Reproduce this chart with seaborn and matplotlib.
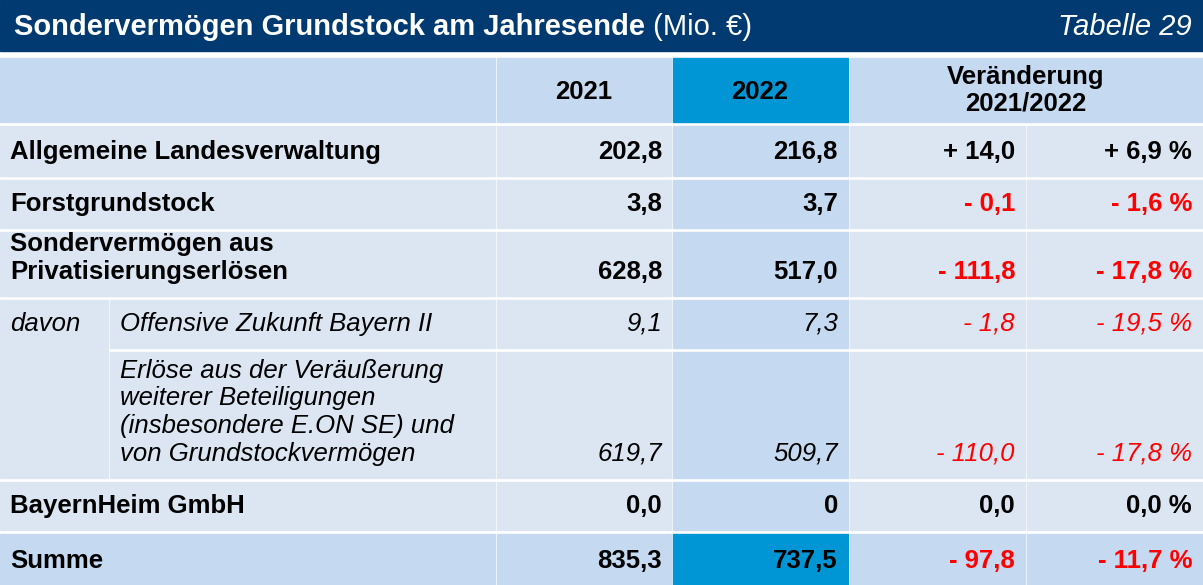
import matplotlib
matplotlib.use("Agg")
import matplotlib.pyplot as plt
from matplotlib.patches import Rectangle
import seaborn as sns

sns.set_theme(style="white", font="Liberation Sans")
plt.rcParams["text.color"] = "black"

title = "Sondervermögen Grundstock am Jahresende"
title_unit = " (Mio. €)"
table_no = "Tabelle 29"
col_headers = ["2021", "2022", "Veränderung\n2021/2022"]
row_labels = ["Allgemeine Landesverwaltung", "Forstgrundstock",
              "Sondervermögen aus\nPrivatisierungserlösen",
              "Offensive Zukunft Bayern II",
              "Erlöse aus der Veräußerung\nweiterer Beteiligungen\n(insbesondere E.ON SE) und\nvon Grundstockvermögen",
              "BayernHeim GmbH", "Summe"]
vals_2021 = ["202,8", "3,8", "628,8", "9,1", "619,7", "0,0", "835,3"]
vals_2022 = ["216,8", "3,7", "517,0", "7,3", "509,7", "0", "737,5"]
chg_abs = ["+ 14,0", "- 0,1", "- 111,8", "- 1,8", "- 110,0", "0,0", "- 97,8"]
chg_pct = ["+ 6,9 %", "- 1,6 %", "- 17,8 %", "- 19,5 %", "- 17,8 %", "0,0 %", "- 11,7 %"]
sub_rows = [3, 4]

NAVY = "#003a70"; LIGHT = "#dce6f2"; MID = "#c5d9f1"; CYAN = "#0096d6"; RED = "#ff0000"
FS = 18.5

fig = plt.figure(figsize=(12.03, 5.85), dpi=100)
ax = fig.add_axes([0, 0, 1, 1])
ax.set_xlim(0, 1203); ax.set_ylim(585, 0); ax.axis("off")

ax.add_patch(Rectangle((0, 0), 1203, 51, color=NAVY))
t = ax.text(14, 27, title, color="white", fontsize=21, fontweight="bold", va="center")
fig.canvas.draw()
bb = t.get_window_extent().transformed(ax.transData.inverted())
ax.text(bb.x1, 27, title_unit, color="white", fontsize=21, va="center")
ax.text(1192, 27, table_no, color="white", fontsize=21, style="italic", va="center", ha="right")

cols = [(0, 495), (497, 671), (673, 848), (850, 1025), (1027, 1203)]
rows = [(126, 176), (180, 228), (232, 296), (300, 348), (352, 478), (482, 530), (534, 585)]
ax.add_patch(Rectangle((0, 58), 495, 64, color=MID))
ax.add_patch(Rectangle((497, 58), 174, 64, color=MID))
ax.add_patch(Rectangle((673, 58), 175, 64, color=CYAN))
ax.add_patch(Rectangle((850, 58), 353, 64, color=MID))
ax.text(584, 92, col_headers[0], fontsize=FS, fontweight="bold", ha="center", va="center")
ax.text(760, 92, col_headers[1], fontsize=FS, fontweight="bold", ha="center", va="center")
ax.text(1026, 90, col_headers[2], fontsize=FS, fontweight="bold", ha="center", va="center", linespacing=1.15)

for i, (y0, y1) in enumerate(rows):
    summe = i == len(rows) - 1
    sub = i in sub_rows
    h = y1 - y0
    if sub:
        ax.add_patch(Rectangle((0, y0), 108, h, color=LIGHT))
        ax.add_patch(Rectangle((110, y0), 385, h, color=LIGHT))
    for j, (x0, x1) in enumerate(cols):
        if sub and j == 0:
            continue
        if j == 2:
            c = CYAN if summe else MID
        else:
            c = MID if summe else LIGHT
        ax.add_patch(Rectangle((x0, y0), x1 - x0, h, color=c))
    yb = y1 - 17
    fw = "normal" if sub else "bold"
    st = "italic" if sub else "normal"
    lx = 120 if sub else 10
    ax.text(lx, yb, row_labels[i], fontsize=FS, fontweight=fw, style=st, va="baseline", linespacing=1.2)
    ax.text(662, yb, vals_2021[i], fontsize=FS, fontweight=fw, style=st, ha="right", va="baseline")
    ax.text(838, yb, vals_2022[i], fontsize=FS, fontweight=fw, style=st, ha="right", va="baseline")
    cc = RED if chg_abs[i].startswith("-") else "black"
    ax.text(1015, yb, chg_abs[i], fontsize=FS, fontweight=fw, style=st, ha="right", va="baseline", color=cc)
    ax.text(1192, yb, chg_pct[i], fontsize=FS, fontweight=fw, style=st, ha="right", va="baseline", color=cc)

ax.add_patch(Rectangle((0, 348), 108, 4, color=LIGHT))
ax.text(10, 331, "davon", fontsize=FS, style="italic", va="baseline")

fig.savefig("out.png", dpi=100)
